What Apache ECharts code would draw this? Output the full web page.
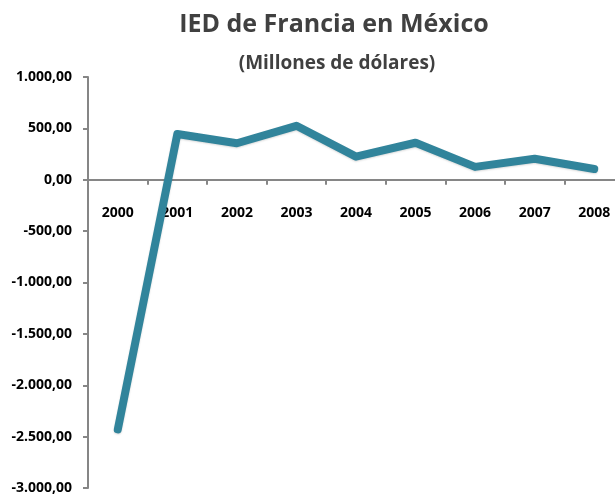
<!DOCTYPE html>
<html>
<head>
<meta charset="utf-8">
<script src="https://cdn.jsdelivr.net/npm/echarts@6/dist/echarts.min.js"></script>
<style>
    html, body { margin: 0; padding: 0; background: #fff; }
    #chart { width: 615px; height: 497px; }
</style>
</head>
<body>
<div id="chart"></div>
<script>
// datos del grafico
var years = ["2000", "2001", "2002", "2003", "2004", "2005", "2006", "2007", "2008"];
var ied = [-2430, 445, 355, 525, 225, 360, 125, 205, 105];
var yMin = -3000, yMax = 1000, yStep = 500;

// formato 1.000,00
function fmt(v) {
    var neg = v < 0;
    var s = Math.abs(v).toFixed(2).split(".");
    var ent = s[0].replace(/\B(?=(\d{3})+(?!\d))/g, ".");
    return (neg ? "-" : "") + ent + "," + s[1];
}

(function () {
    var myChart = echarts.init(document.getElementById("chart"));
    var font = "'Open Sans', 'Liberation Sans', sans-serif";
    var gridTop = 77, gridBottom = 9;
    var plotH = 497 - gridTop - gridBottom;
    // distancia del borde superior a la linea del cero
    var zeroOffset = plotH * (yMax - 0) / (yMax - yMin);
    var option = {
        title: [
            {
                text: "IED de Francia en México",
                left: 329,
                top: 7,
                textAlign: "center",
                textStyle: { color: "#404040", fontSize: 25, fontWeight: "bold", fontFamily: font }
            },
            {
                text: "(Millones de dólares)",
                left: 332,
                top: 49,
                textAlign: "center",
                textStyle: { color: "#404040", fontSize: 19, fontWeight: "bold", fontFamily: font }
            }
        ],
        grid: {
            left: 88,
            right: -9,
            top: gridTop,
            bottom: gridBottom,
            containLabel: false,
            outerBoundsMode: "none"
        },
        xAxis: {
            type: "category",
            data: years,
            position: "top",
            offset: -zeroOffset,
            boundaryGap: true,
            axisLine: { onZero: false, lineStyle: { color: "#868686", width: 2 } },
            axisTick: { show: true, inside: true, length: 5, lineStyle: { color: "#868686", width: 2 } },
            axisLabel: {
                inside: true,
                color: "#000",
                fontSize: 14,
                fontWeight: "bold",
                fontFamily: font,
                margin: 26,
                interval: 0
            },
            splitLine: { show: false }
        },
        yAxis: {
            type: "value",
            min: yMin,
            max: yMax,
            interval: yStep,
            axisLine: { show: true, lineStyle: { color: "#868686", width: 2 } },
            axisTick: { show: true, length: 5, lineStyle: { color: "#868686", width: 2 } },
            axisLabel: {
                color: "#000",
                fontSize: 14,
                fontWeight: "bold",
                fontFamily: font,
                margin: 16,
                formatter: fmt
            },
            splitLine: { show: false }
        },
        series: [
            {
                type: "line",
                data: ied,
                showSymbol: false,
                symbol: "none",
                lineStyle: {
                    color: "#31849B",
                    width: 8,
                    cap: "round",
                    join: "round",
                    shadowColor: "rgba(0,0,0,0.15)",
                    shadowBlur: 2,
                    shadowOffsetY: 1
                },
                itemStyle: { color: "#31849B" }
            }
        ]
    };
    myChart.setOption(option);
})();
</script>
</body>
</html>
